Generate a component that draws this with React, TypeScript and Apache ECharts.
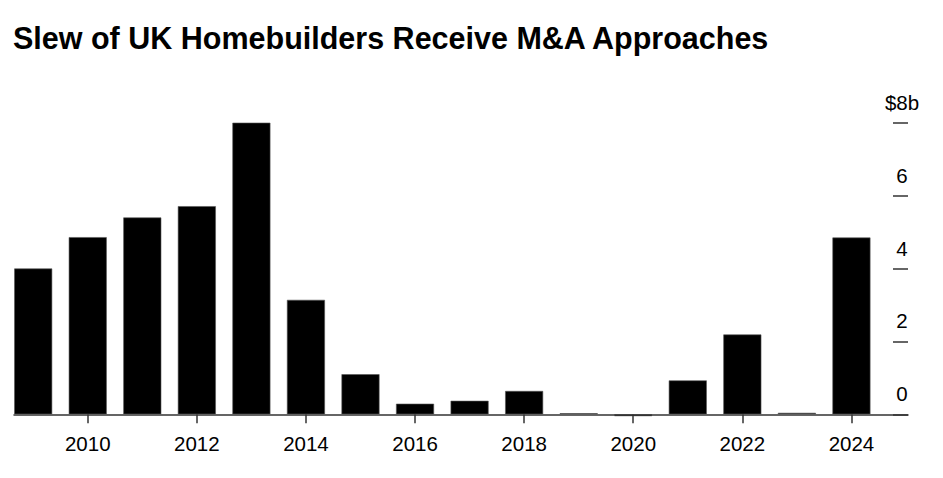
import React, { useEffect, useRef } from "react";
import * as echarts from "echarts";

const years = [2009, 2010, 2011, 2012, 2013, 2014, 2015, 2016, 2017, 2018, 2019, 2020, 2021, 2022, 2023, 2024];
const approaches = [4.0, 4.86, 5.4, 5.71, 8.0, 3.14, 1.1, 0.29, 0.37, 0.64, 0.03, -0.05, 0.93, 2.19, 0.04, 4.85];
const xTicks = [2010, 2012, 2014, 2016, 2018, 2020, 2022, 2024];
const yTicks = [0, 2, 4, 6, 8];
const title = "Slew of UK Homebuilders Receive M&A Approaches";

export default function App() {
  const ref = useRef<HTMLDivElement>(null);
  useEffect(() => {
    if (!ref.current) return;
    const chart = echarts.init(ref.current, null, { renderer: "svg" });
    const font = "'Liberation Sans', Arial, sans-serif";
    chart.setOption({
      animation: false,
      backgroundColor: "#ffffff",
      textStyle: { fontFamily: font },
      title: {
        text: title,
        left: 8,
        top: 17,
        textStyle: { fontFamily: font, fontSize: 30.5, fontWeight: "bold", color: "#000" },
      },
      grid: { left: 14, right: 35, top: 122.7, bottom: 63.7, containLabel: false },
      xAxis: {
        type: "value",
        min: 2008.648,
        max: 2025.037,
        splitLine: { show: false },
        axisLine: { show: true, onZero: true, lineStyle: { color: "#333", width: 1.5 } },
        axisTick: { show: true, customValues: xTicks, length: 9, lineStyle: { color: "#333", width: 1.5 } },
        axisLabel: {
          customValues: xTicks,
          color: "#000",
          fontSize: 20.5,
          fontFamily: font,
          margin: 19,
          formatter: (v: number) => String(v),
        },
      },
      yAxis: {
        type: "value",
        position: "right",
        min: 0,
        max: 8,
        interval: 2,
        splitLine: { show: false },
        axisLine: { show: false },
        axisTick: { show: true, inside: true, length: 15, lineStyle: { color: "#333", width: 1.5 } },
        axisLabel: {
          color: "#000",
          fontSize: 20.5,
          fontFamily: font,
          align: "center",
          verticalAlign: "bottom",
          margin: -6,
          padding: [0, 0, 10, 0],
          formatter: (v: number) => (v === yTicks[yTicks.length - 1] ? "$" + v + "b" : String(v)),
        },
      },
      series: [
        {
          type: "bar",
          data: years.map((y, i) => [y, approaches[i]]),
          barWidth: 38,
          clip: false,
          itemStyle: { color: "#000", borderColor: "#555", borderWidth: 0.6 },
        },
      ],
    });
    return () => chart.dispose();
  }, []);
  return <div ref={ref} style={{ position: "fixed", left: 0, top: 0, width: 943, height: 478 }} />;
}
